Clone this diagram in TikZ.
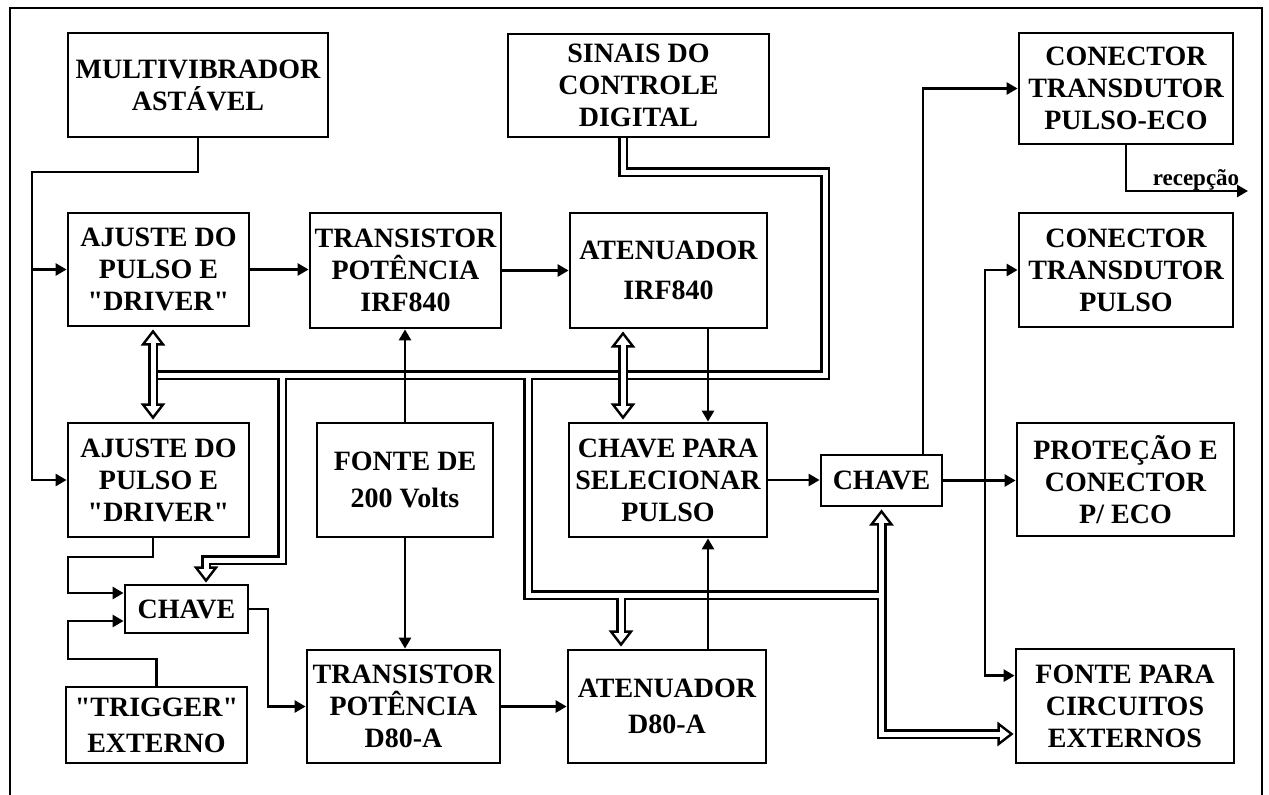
\documentclass[tikz,border=0pt]{standalone}
\usepackage{fontspec}
\setmainfont{Liberation Serif}[Ligatures=TeXOff]
\usetikzlibrary{arrows.meta,calc,backgrounds}
\tikzset{
  box/.style={draw, line width=2.8pt, align=center, inner sep=0pt, font=\bfseries\fontsize{28}{32}\selectfont},
  conn/.style={line width=2.6pt},
  arr/.style={conn, -{Triangle[length=11pt,width=12pt]}},
  busout/.style={line width=10pt, line join=miter, line cap=butt},
  busin/.style={white, line width=5pt, line join=miter, line cap=butt},
  hhead/.pic={\draw[line width=2.4pt, fill=white, line join=miter] (0,0) -- (-13,-10) -- (-13,10) -- cycle;
              \fill[white] (-15,-2.5) rectangle (-11,2.5);}
}
\begin{document}
\begin{tikzpicture}[x=1pt,y=-1pt]
\useasboundingbox (0,0) rectangle (1269,795);
\draw[line width=2.8pt] (10,795) -- (10,8) -- (1262,8) -- (1262,795);

% boxes
\node[box, minimum width=260pt, minimum height=104pt] (multi) at (198,85) {MULTIVIBRADOR\\ASTÁVEL};
\node[box, minimum width=261pt, minimum height=103pt] (sinais) at (638.5,85.5) {SINAIS DO\\CONTROLE\\DIGITAL};
\node[box, minimum width=214pt, minimum height=111pt] (cpe) at (1126,88.5) {CONECTOR\\TRANSDUTOR\\PULSO-ECO};
\node[box, minimum width=181pt, minimum height=113pt] (aj1) at (158.5,269.5) {AJUSTE DO\\PULSO E\\"DRIVER"};
\node[box, minimum width=191pt, minimum height=115pt] (tirf) at (405.5,270.5) {TRANSISTOR\\POTÊNCIA\\IRF840};
\node[box, minimum width=197pt, minimum height=115pt, font=\bfseries\fontsize{28}{40}\selectfont] (airf) at (668.5,270.5) {ATENUADOR\\IRF840};
\node[box, minimum width=214pt, minimum height=114pt] (cp) at (1126,270) {CONECTOR\\TRANSDUTOR\\PULSO};
\node[box, minimum width=181pt, minimum height=114pt] (aj2) at (158.5,480) {AJUSTE DO\\PULSO E\\"DRIVER"};
\node[box, minimum width=176pt, minimum height=114pt, font=\bfseries\fontsize{28}{37}\selectfont] (fonte) at (405,480) {FONTE DE\\200 Volts};
\node[box, minimum width=198pt, minimum height=114pt] (csel) at (668,480) {CHAVE PARA\\SELECIONAR\\PULSO};
\node[box, minimum width=121pt, minimum height=51pt] (chR) at (881.5,480.5) {CHAVE};
\node[box, minimum width=217pt, minimum height=113pt] (prot) at (1125.5,479.5) {PROTEÇÃO E\\CONECTOR\\P/ ECO};
\node[box, minimum width=123pt, minimum height=48pt] (chL) at (186.5,609) {CHAVE};
\node[box, minimum width=181pt, minimum height=76pt, font=\bfseries\fontsize{28}{36}\selectfont] (trig) at (156.5,725) {"TRIGGER"\\EXTERNO};
\node[box, minimum width=193pt, minimum height=113pt] (td80) at (403.5,706.5) {TRANSISTOR\\POTÊNCIA\\D80-A};
\node[box, minimum width=198pt, minimum height=113pt, font=\bfseries\fontsize{28}{36}\selectfont] (ad80) at (667,706.5) {ATENUADOR\\D80-A};
\node[box, minimum width=218pt, minimum height=114pt] (fpc) at (1125,706) {FONTE PARA\\CIRCUITOS\\EXTERNOS};
\node[font=\bfseries\fontsize{23}{23}\selectfont, anchor=base] (rec) at (1196,185) {recepção};

\begin{pgfonlayer}{background}
% bus coordinates
\coordinate (bE) at (623,172);
\coordinate (bF) at (825,172);
\coordinate (bG) at (825,375);
\coordinate (bH) at (153,375);
\coordinate (b1) at (282,375);
\coordinate (b2) at (282,560);
\coordinate (b3) at (206,560);
\coordinate (hL) at ($(b3 |- chL.north)+(0,-3)$);
\coordinate (c1) at (528,375);
\coordinate (c2) at (528,595);
\coordinate (c3) at (chR.south |- c2);
\coordinate (d1) at (621,595);
\coordinate (hD) at ($(d1 |- ad80.north)+(0,-4)$);
\coordinate (hE) at ($(chR.south)+(0,4)$);
\coordinate (yF) at (0,734);
\coordinate (e2) at (chR.south |- yF);
\coordinate (hF) at ($(fpc.west |- yF)+(-3,0)$);
\coordinate (hA1) at ($(bH |- aj1.south)+(0,4)$);
\coordinate (hA2) at ($(bH |- aj2.north)+(0,-4)$);
\coordinate (hG1) at ($(bE |- airf.south)+(0,4)$);
\coordinate (hG2) at ($(bE |- csel.north)+(0,-4)$);

% bus outer
\draw[busout] (sinais.south -| bE) -- (bE) -- (bF) -- (bG) -- (bH);
\draw[busout] (b1) -- (b2) -- (b3) -- ($(hL)+(0,-13)$);
\draw[busout] (c1) -- (c2) -- (c3);
\draw[busout] (d1) -- ($(hD)+(0,-13)$);
\draw[busout] ($(hE)+(0,13)$) -- (e2) -- ($(hF)+(-13,0)$);
% bus inner
\draw[busin] (sinais.south -| bE) -- (bE) -- (bF) -- (bG) -- (bH);
\draw[busin] (b1) -- (b2) -- (b3) -- ($(hL)+(0,-13)$);
\draw[busin] (c1) -- (c2) -- (c3);
\draw[busin] (d1) -- ($(hD)+(0,-13)$);
\draw[busin] ($(hE)+(0,13)$) -- (e2) -- ($(hF)+(-13,0)$);
% double-headed hollow arrows
\draw[busout] ($(hA1)+(0,13)$) -- ($(hA2)+(0,-13)$);
\draw[busout] ($(hG1)+(0,13)$) -- ($(hG2)+(0,-13)$);
\draw[busin] ($(hA1)+(0,13)$) -- ($(hA2)+(0,-13)$);
\draw[busin] ($(hG1)+(0,13)$) -- ($(hG2)+(0,-13)$);
% hollow heads
\pic[rotate=90] at (hA1) {hhead};
\pic[rotate=-90] at (hA2) {hhead};
\pic[rotate=90] at (hG1) {hhead};
\pic[rotate=-90] at (hG2) {hhead};
\pic[rotate=-90] at (hL) {hhead};
\pic[rotate=-90] at (hD) {hhead};
\pic[rotate=90] at (hE) {hhead};
\pic at (hF) {hhead};

% single-line connectors
\coordinate (lx) at (32,172);
\draw[arr] (multi.south) |- (lx) |- (aj2.west);
\draw[arr] (lx |- aj1.west) -- (aj1.west);
\draw[arr] (aj1.east) -- (aj1.east -| tirf.west);
\draw[arr] (tirf.east) -- (tirf.east -| airf.west);
\draw[arr] (fonte.north) -- (fonte.north |- tirf.south);
\draw[arr] (fonte.south) -- (fonte.south |- td80.north);
\coordinate (x708) at (708,0);
\draw[arr] (airf.south -| x708) -- (csel.north -| x708);
\draw[arr] (ad80.north -| x708) -- (csel.south -| x708);
\draw[arr] (csel.east) -- (csel.east -| chR.west);
\draw[arr] (chR.east) -- (chR.east -| prot.west);
\coordinate (x923) at (923,0);
\draw[arr] (chR.north -| x923) |- (cpe.west);
\coordinate (j) at (985,480);
\path (fpc.north west) ++(0,28) coordinate (fa);
\draw[arr] (j) |- (cp.west);
\draw[arr] (j) |- (fa);
\coordinate (rx) at (1248,191);
\draw[arr] (cpe.south) |- (rx);
\coordinate (x153) at (153,0);
\coordinate (q1) at (68,557);
\draw[arr] (aj2.south -| x153) |- (q1) |- ($(chL.west)+(0,-16)$);
\coordinate (q2) at (68,659);
\draw[arr] (trig.north) |- (q2) |- ($(chL.west)+(0,12)$);
\coordinate (k) at (268,0);
\draw[arr] (chL.east) -| (k |- td80.west) -- (td80.west);
\draw[arr] (td80.east) -- (td80.east -| ad80.west);
\end{pgfonlayer}
\end{tikzpicture}
\end{document}
